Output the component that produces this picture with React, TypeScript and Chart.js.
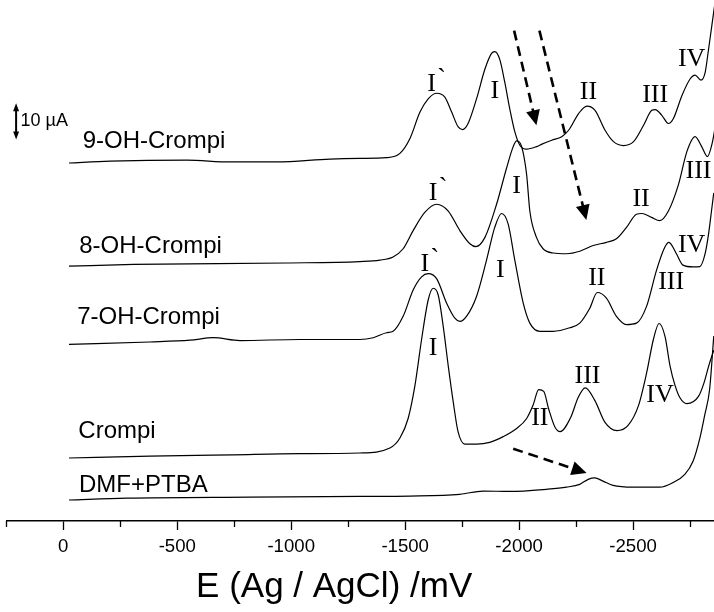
import React, { useEffect, useRef } from "react";
import { Chart, registerables } from "chart.js";

Chart.register(...registerables);

// Potential axis (mV vs Ag/AgCl), drawn reversed: 0 on the left, cathodic to the right
const X_MIN = -2855;
const X_MAX = 250;
// Current axis (µA), curves are stacked with vertical offsets
const Y_MIN = 0;
const Y_MAX = 146.4;

const MAJOR_TICKS = [0, -500, -1000, -1500, -2000, -2500];
const MINOR_TICKS = [250, -250, -750, -1250, -1750, -2250, -2750];
const X_TITLE = "E (Ag / AgCl) /mV";

// 9-OH-Crompi
const OH9_E = [-25, -205, -543, -731, -937, -1170, -1301, -1418, -1477, -1521, -1565, -1601, -1638, -1674, -1704, -1732, -1752, -1776, -1813, -1850, -1879, -1893, -1915, -1937, -1959, -1981, -2003, -2033, -2076, -2100, -2143, -2187, -2217, -2261, -2297, -2333, -2377, -2414, -2458, -2502, -2546, -2582, -2597, -2626, -2655, -2677, -2714, -2750, -2772, -2798, -2816, -2831, -2845, -2858];
const OH9_I = [100.6, 101.1, 101.4, 100.9, 100.9, 101.7, 101.9, 102.1, 103.3, 107.5, 114.9, 118.6, 120.2, 119.1, 114.9, 110.8, 110.0, 111.7, 118.6, 127.0, 131.4, 131.9, 129.7, 123.3, 115.8, 109.4, 105.6, 104.5, 105.2, 105.9, 107.0, 108.0, 109.8, 114.5, 116.6, 115.4, 109.8, 106.6, 105.5, 106.6, 111.2, 115.4, 115.6, 114.0, 111.7, 113.1, 119.5, 124.2, 125.3, 123.9, 126.0, 132.5, 139.0, 145.0];

// 8-OH-Crompi
const OH8_E = [-25, -308, -980, -1301, -1389, -1447, -1491, -1535, -1586, -1638, -1689, -1740, -1784, -1810, -1850, -1901, -1945, -1974, -1989, -2011, -2033, -2047, -2076, -2105, -2149, -2208, -2266, -2325, -2383, -2427, -2471, -2515, -2538, -2581, -2617, -2655, -2699, -2736, -2772, -2801, -2826, -2845, -2854, -2870];
const OH8_I = [71.6, 72.1, 72.5, 72.9, 73.3, 74.2, 76.5, 81.6, 86.7, 89.0, 87.1, 81.6, 77.9, 77.1, 79.7, 89.0, 99.2, 105.2, 106.8, 105.2, 97.3, 87.1, 79.7, 76.5, 75.3, 75.1, 75.8, 77.4, 78.3, 79.3, 82.5, 86.2, 86.4, 85.3, 84.4, 87.1, 94.5, 103.8, 108.0, 105.2, 102.4, 105.6, 108.4, 115.0];

// 7-OH-Crompi
const OH7_E = [-25, -380, -556, -658, -775, -1038, -1301, -1360, -1418, -1447, -1491, -1535, -1572, -1601, -1638, -1682, -1718, -1740, -1769, -1813, -1857, -1893, -1923, -1952, -1981, -2018, -2047, -2091, -2149, -2222, -2266, -2310, -2343, -2383, -2427, -2471, -2515, -2559, -2603, -2639, -2657, -2690, -2719, -2763, -2793, -2816, -2831, -2844, -2854];
const OH7_I = [49.6, 50.3, 50.8, 51.5, 50.7, 51.0, 51.0, 51.5, 52.9, 53.3, 57.5, 64.9, 68.6, 69.5, 68.1, 61.2, 57.0, 56.1, 57.5, 63.1, 73.3, 82.5, 86.4, 83.4, 73.3, 61.2, 55.6, 53.3, 53.3, 54.3, 55.6, 59.8, 64.2, 62.6, 57.5, 55.2, 55.6, 60.3, 70.5, 76.9, 78.3, 75.1, 71.9, 71.4, 71.5, 75.1, 80.6, 87.1, 92.2];

// Crompi
const CR_E = [-25, -380, -746, -1038, -1301, -1433, -1477, -1513, -1543, -1572, -1601, -1623, -1645, -1667, -1689, -1711, -1732, -1762, -1813, -1871, -1930, -1989, -2033, -2061, -2086, -2108, -2130, -2157, -2180, -2227, -2259, -2290, -2332, -2376, -2429, -2477, -2524, -2560, -2589, -2614, -2640, -2662, -2684, -2705, -2736, -2787, -2810, -2832, -2854];
const CR_I = [17.7, 18.2, 18.6, 18.9, 19.1, 20.5, 23.3, 28.8, 38.1, 51.0, 62.1, 65.4, 63.5, 54.7, 43.6, 33.4, 25.1, 21.6, 21.6, 22.1, 23.7, 26.0, 28.8, 32.5, 36.9, 36.4, 31.4, 26.4, 25.1, 29.2, 34.7, 37.4, 33.9, 27.8, 25.4, 26.8, 32.5, 41.8, 51.0, 55.5, 51.9, 43.6, 38.1, 34.7, 33.0, 35.0, 38.6, 43.6, 48.0];

// DMF+PTBA (blank)
const BL_E = [-25, -278, -819, -1301, -1521, -1740, -1842, -1959, -2120, -2208, -2266, -2303, -2332, -2368, -2412, -2500, -2617, -2675, -2727, -2763, -2793, -2814, -2836, -2854];
const BL_I = [5.9, 6.4, 6.7, 6.9, 7.0, 7.5, 8.4, 8.3, 8.9, 9.5, 10.3, 11.7, 12.1, 11.2, 10.0, 9.5, 9.5, 10.8, 13.1, 16.8, 23.3, 29.7, 37.1, 52.0];

const CURVE_NAMES = ["9-OH-Crompi", "8-OH-Crompi", "7-OH-Crompi", "Crompi", "DMF+PTBA"];
const NAME_E = [-85, -70, -61, -66, -69];
const NAME_I = [106.6, 77.2, 57.3, 25.1, 10.1];

// Peak labels: text, potential, current
const PEAK_TEXT = ["I`", "I", "II", "III", "IV", "I`", "I", "II", "III", "I`", "I", "II", "III", "IV", "I", "II", "III", "IV"];
const PEAK_E = [-1616, -1893, -2304, -2597, -2757, -1623, -1989, -2535, -2787, -1586, -1918, -2341, -2667, -2757, -1623, -2091, -2300, -2618];
const PEAK_I = [122.8, 120.9, 120.5, 119.7, 129.7, 92.2, 94.1, 90.4, 98.3, 72.3, 70.5, 68.1, 67.2, 77.4, 48.7, 28.8, 40.8, 35.3];

// Dashed trend arrows: start (E, I) -> tip (E, I)
const ARROW_FROM_E = [-1978, -2089, -1974];
const ARROW_FROM_I = [137.8, 137.8, 20.3];
const ARROW_TO_E = [-2076, -2295, -2296];
const ARROW_TO_I = [111.2, 84.6, 13.5];

// 10 µA scale bar
const SCALE_E = 207;
const SCALE_I_LOW = 107.2;
const SCALE_I_HIGH = 117.4;
const SCALE_TEXT = "10 \u00b5A";

const SANS = '"Liberation Sans", Arial, sans-serif';
const SERIF = '"Liberation Serif", "Times New Roman", serif';

function toPoints(es: number[], is: number[]) {
  return es.map((e, k) => ({ x: e, y: is[k] }));
}

function drawArrow(ctx: CanvasRenderingContext2D, x0: number, y0: number, x1: number, y1: number) {
  const dx = x1 - x0;
  const dy = y1 - y0;
  const len = Math.hypot(dx, dy);
  const ux = dx / len;
  const uy = dy / len;
  const headLen = 15;
  const headHalf = 7;
  const bx = x1 - ux * headLen;
  const by = y1 - uy * headLen;
  ctx.save();
  ctx.strokeStyle = "#000";
  ctx.lineWidth = 2.6;
  ctx.setLineDash([10, 6]);
  ctx.beginPath();
  ctx.moveTo(x0, y0);
  ctx.lineTo(bx + ux * 2, by + uy * 2);
  ctx.stroke();
  ctx.setLineDash([]);
  ctx.fillStyle = "#000";
  ctx.beginPath();
  ctx.moveTo(x1, y1);
  ctx.lineTo(bx - uy * headHalf, by + ux * headHalf);
  ctx.lineTo(bx + uy * headHalf, by - ux * headHalf);
  ctx.closePath();
  ctx.fill();
  ctx.restore();
}

const overlay = {
  id: "overlay",
  afterDatasetsDraw(chart: any) {
    const { ctx, scales } = chart;
    const xs = scales.x;
    const ys = scales.y;
    const px = (e: number) => xs.getPixelForValue(e);
    const py = (i: number) => ys.getPixelForValue(i);
    ctx.save();
    ctx.fillStyle = "#000";

    // curve names
    ctx.font = `24px ${SANS}`;
    ctx.textAlign = "left";
    ctx.textBaseline = "middle";
    CURVE_NAMES.forEach((n, k) => ctx.fillText(n, px(NAME_E[k]), py(NAME_I[k])));

    // peak labels
    ctx.font = `26px ${SERIF}`;
    PEAK_TEXT.forEach((t, k) => {
      const cx = px(PEAK_E[k]);
      const cy = py(PEAK_I[k]);
      ctx.textAlign = "center";
      ctx.textBaseline = "middle";
      if (t === "I`") {
        ctx.fillText("I", cx, cy);
        ctx.textBaseline = "alphabetic";
        ctx.fillText("`", cx + 10, cy + 2);
      } else {
        ctx.fillText(t, cx, cy);
      }
    });

    // trend arrows
    ARROW_FROM_E.forEach((e, k) =>
      drawArrow(ctx, px(e), py(ARROW_FROM_I[k]), px(ARROW_TO_E[k]), py(ARROW_TO_I[k]))
    );

    // scale bar
    const sx = px(SCALE_E);
    const sTop = py(SCALE_I_HIGH);
    const sBot = py(SCALE_I_LOW);
    ctx.strokeStyle = "#000";
    ctx.lineWidth = 2;
    ctx.beginPath();
    ctx.moveTo(sx, sTop + 5);
    ctx.lineTo(sx, sBot - 5);
    ctx.stroke();
    ctx.beginPath();
    ctx.moveTo(sx, sTop);
    ctx.lineTo(sx - 3, sTop + 8);
    ctx.lineTo(sx + 3, sTop + 8);
    ctx.closePath();
    ctx.fill();
    ctx.beginPath();
    ctx.moveTo(sx, sBot);
    ctx.lineTo(sx - 3, sBot - 8);
    ctx.lineTo(sx + 3, sBot - 8);
    ctx.closePath();
    ctx.fill();
    ctx.font = `18px ${SANS}`;
    ctx.textAlign = "left";
    ctx.textBaseline = "middle";
    ctx.fillText(SCALE_TEXT, sx + 4.5, (sTop + sBot) / 2);

    ctx.restore();
  },
  afterDraw(chart: any) {
    const { ctx, scales, chartArea } = chart;
    const xs = scales.x;
    ctx.save();
    ctx.strokeStyle = "#000";
    ctx.lineWidth = 1.3;
    MINOR_TICKS.forEach((v) => {
      const x = Math.round(xs.getPixelForValue(v)) + 0.5;
      ctx.beginPath();
      ctx.moveTo(x, chartArea.bottom);
      ctx.lineTo(x, chartArea.bottom + 6);
      ctx.stroke();
    });
    // axis title, centred a little left of the plot's middle
    ctx.fillStyle = "#000";
    ctx.font = `35px ${SANS}`;
    ctx.textAlign = "center";
    ctx.textBaseline = "middle";
    ctx.fillText(X_TITLE, (chartArea.left + chartArea.right) / 2 - 26, chartArea.bottom + 66);
    ctx.restore();
  },
};

export default function App() {
  const ref = useRef<HTMLCanvasElement | null>(null);

  useEffect(() => {
    if (!ref.current) return;
    const line = (pts: { x: number; y: number }[]) => ({
      data: pts,
      borderColor: "#000",
      borderWidth: 1.2,
      pointRadius: 0,
      fill: false,
      cubicInterpolationMode: "monotone" as const,
    });
    const chart = new Chart(ref.current, {
      type: "line",
      data: {
        datasets: [
          line(toPoints(OH9_E, OH9_I)),
          line(toPoints(OH8_E, OH8_I)),
          line(toPoints(OH7_E, OH7_I)),
          line(toPoints(CR_E, CR_I)),
          line(toPoints(BL_E, BL_I)),
        ],
      },
      options: {
        animation: false,
        responsive: false,
        devicePixelRatio: 1,
        layout: { padding: { left: 6.3, right: 0, top: 0, bottom: 47.7 } },
        plugins: { legend: { display: false }, tooltip: { enabled: false } },
        scales: {
          x: {
            type: "linear",
            min: X_MIN,
            max: X_MAX,
            reverse: true,
            position: "bottom",
            afterBuildTicks: (scale: any) => {
              scale.ticks = MAJOR_TICKS.map((v) => ({ value: v }));
            },
            grid: {
              drawOnChartArea: false,
              drawTicks: true,
              tickLength: 9,
              tickColor: "#000",
              tickWidth: 1.3,
            },
            border: { display: true, color: "#000", width: 1.5 },
            ticks: {
              color: "#000",
              font: { family: SANS, size: 18.6 },
              padding: 6,
              maxRotation: 0,
              autoSkip: false,
              callback: (v: any) => String(v),
            },
            title: { display: false },
          },
          y: { type: "linear", display: false, min: Y_MIN, max: Y_MAX },
        },
      },
      plugins: [overlay],
    });
    return () => chart.destroy();
  }, []);

  return (
    <div style={{ position: "absolute", left: 0, top: 0, width: 714, height: 612, background: "#fff" }}>
      <canvas ref={ref} width={714} height={612} />
    </div>
  );
}
